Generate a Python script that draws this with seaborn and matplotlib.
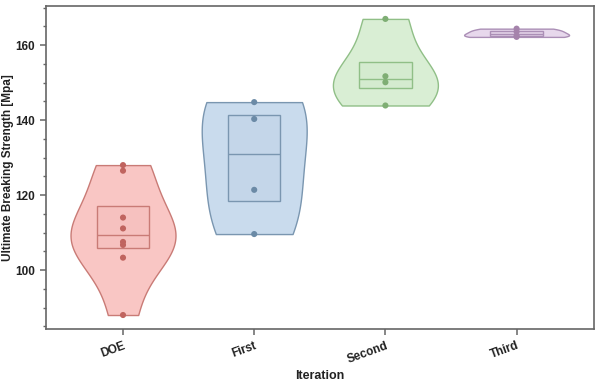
import numpy as np
import pandas as pd
import matplotlib
matplotlib.use("Agg")
import matplotlib.pyplot as plt
from matplotlib.colors import to_rgb
from matplotlib.ticker import MultipleLocator
import seaborn as sns

# data
iterations = ["DOE", "First", "Second", "Third"]
doe = [128.0, 126.5, 114.0, 111.1, 107.5, 106.7, 103.3, 88.0]
first = [144.8, 140.3, 121.4, 109.6]
second = [167.0, 151.7, 150.1, 143.9]
third = [164.4, 163.6, 162.5, 162.2]

fills = ["#f9c6c4", "#c9dbed", "#d9eed4", "#e7d8ec"]
edges = ["#c97b76", "#7a96b0", "#90bf87", "#ab8fb6"]
dots = ["#c0645f", "#6b8aa6", "#7fae74", "#a583ab"]

df = pd.DataFrame({
    "Iteration": (["DOE"] * len(doe) + ["First"] * len(first)
                  + ["Second"] * len(second) + ["Third"] * len(third)),
    "Strength": doe + first + second + third,
})

sns.set_style("ticks")
plt.rcParams["font.family"] = ["Liberation Sans", "DejaVu Sans"]

fig, ax = plt.subplots(figsize=(6, 3.86), dpi=100)
fig.subplots_adjust(left=0.076, right=0.99, bottom=0.147, top=0.985)

sns.violinplot(data=df, x="Iteration", y="Strength", hue="Iteration",
               order=iterations, hue_order=iterations, palette=fills,
               saturation=1, cut=0, inner=None, density_norm="width",
               width=0.8, linewidth=1.0, legend=False, ax=ax)
for coll, ec in zip(ax.collections, edges):
    coll.set_edgecolor(ec)

sns.boxplot(data=df, x="Iteration", y="Strength", hue="Iteration",
            order=iterations, hue_order=iterations, palette=edges,
            saturation=1, width=0.4, whis=0, showcaps=False,
            showfliers=False, linewidth=1.0, legend=False, ax=ax)
for patch in ax.patches:
    idx = int(round(patch.get_path().vertices[:, 0].mean()))
    patch.set_facecolor((*to_rgb(edges[idx]), 0.06))
    patch.set_edgecolor(edges[idx])
for line in ax.lines:
    idx = int(round(np.mean(line.get_xdata())))
    line.set_color(edges[idx])

sns.stripplot(data=df, x="Iteration", y="Strength", hue="Iteration",
              order=iterations, hue_order=iterations, palette=dots,
              jitter=False, size=4.4, legend=False, zorder=5, ax=ax)

ax.set_xlim(-0.59, 3.59)
ax.set_ylim(84.2, 170.5)
ax.yaxis.set_major_locator(MultipleLocator(20))
ax.yaxis.set_minor_locator(MultipleLocator(5))

for side in ["top", "right", "left", "bottom"]:
    ax.spines[side].set_visible(True)
    ax.spines[side].set_color("#666666")
    ax.spines[side].set_linewidth(1.2)
ax.tick_params(axis="both", which="major", length=4, width=1.1,
               color="#666666", labelsize=8.5, labelcolor="#222222")
ax.tick_params(axis="y", which="minor", length=2.5, width=1.0, color="#666666")
for lab in ax.get_yticklabels():
    lab.set_fontweight("bold")
ax.set_xticks(range(len(iterations)))
ax.set_xticklabels(iterations, rotation=20, ha="right",
                   rotation_mode="anchor", fontweight="bold", fontsize=8.5)

ax.set_xlabel("Iteration", fontsize=9, fontweight="bold", color="#222222")
ax.set_ylabel("Ultimate Breaking Strength [Mpa]", fontsize=8.5,
              fontweight="bold", color="#222222")
ax.xaxis.set_label_coords(0.5, -0.125)
ax.yaxis.set_label_coords(-0.057, 0.5)

fig.savefig("out.png", dpi=100)
